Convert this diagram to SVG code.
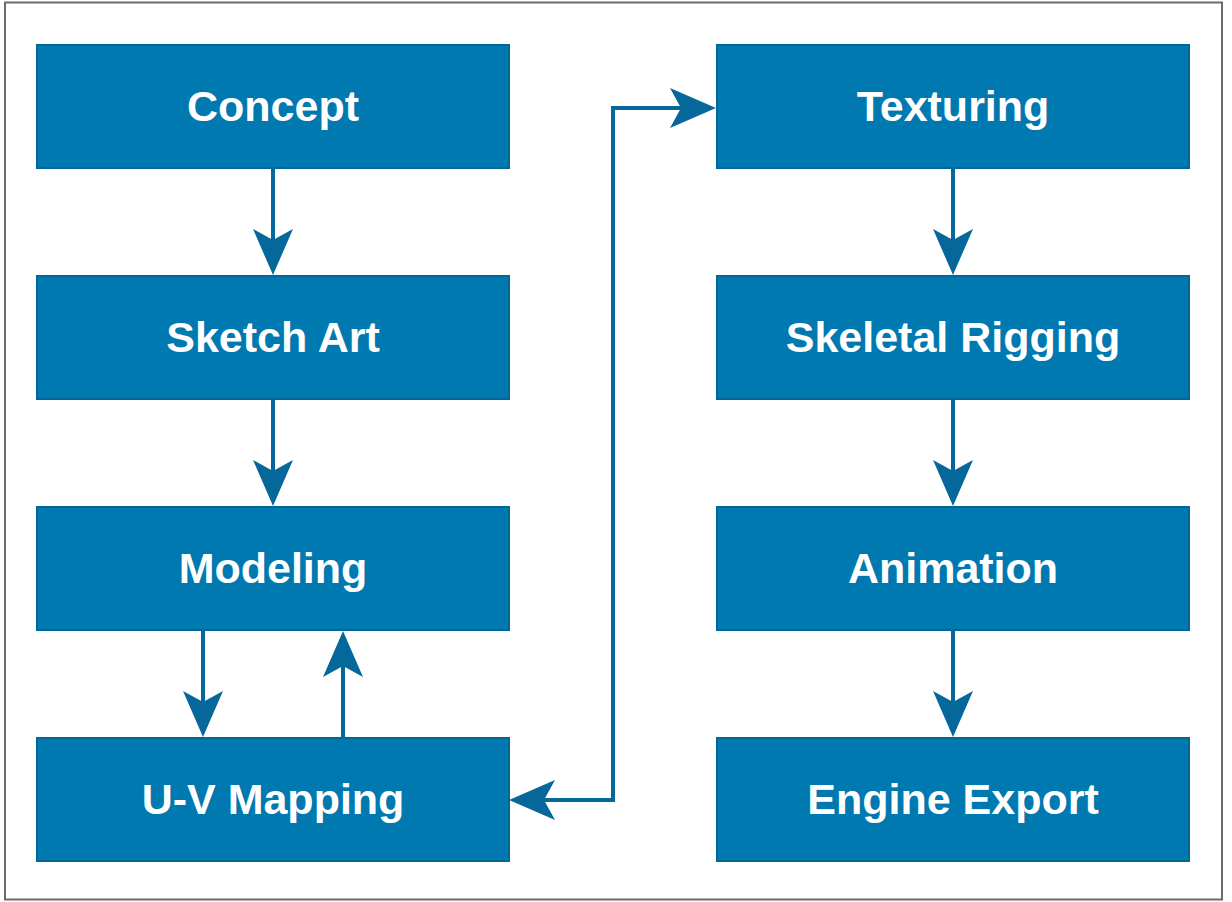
<svg xmlns="http://www.w3.org/2000/svg" width="1232" height="902" viewBox="0 0 1232 902">
<defs>
<style>
.box{fill:#0079b1;stroke:#006798;stroke-width:2}
.lbl{fill:#ffffff;font-family:"Liberation Sans",Arial,sans-serif;font-weight:bold;font-size:43px;text-anchor:middle}
.ln{fill:none;stroke:#05679a;stroke-width:4}
</style>
<marker id="ah" viewBox="0 0 46 40" refX="30" refY="20" markerWidth="46" markerHeight="40" markerUnits="userSpaceOnUse" orient="auto">
<path d="M0,0 L46,20 L0,40 L11,20 Z" fill="#05679a"/>
</marker>
</defs>
<rect x="0" y="0" width="1232" height="902" fill="#ffffff"/>
<rect x="5" y="2.5" width="1217" height="897" fill="none" stroke="#6b6b6b" stroke-width="2"/>
<g id="concept"><rect class="box" x="37" y="45" width="472" height="123"/><text class="lbl" x="273" y="121">Concept</text></g>
<g id="sketch-art"><rect class="box" x="37" y="276" width="472" height="123"/><text class="lbl" x="273" y="352">Sketch Art</text></g>
<g id="modeling"><rect class="box" x="37" y="507" width="472" height="123"/><text class="lbl" x="273" y="583">Modeling</text></g>
<g id="uv-mapping"><rect class="box" x="37" y="738" width="472" height="123"/><text class="lbl" x="273" y="814">U-V Mapping</text></g>
<g id="texturing"><rect class="box" x="717" y="45" width="472" height="123"/><text class="lbl" x="953" y="121">Texturing</text></g>
<g id="skeletal-rigging"><rect class="box" x="717" y="276" width="472" height="123"/><text class="lbl" x="953" y="352">Skeletal Rigging</text></g>
<g id="animation"><rect class="box" x="717" y="507" width="472" height="123"/><text class="lbl" x="953" y="583">Animation</text></g>
<g id="engine-export"><rect class="box" x="717" y="738" width="472" height="123"/><text class="lbl" x="953" y="814">Engine Export</text></g>
<g id="connectors">
<line class="ln" x1="273" y1="168" x2="273" y2="259" marker-end="url(#ah)"/>
<line class="ln" x1="273" y1="399" x2="273" y2="490" marker-end="url(#ah)"/>
<line class="ln" x1="203" y1="630" x2="203" y2="721" marker-end="url(#ah)"/>
<line class="ln" x1="343" y1="737" x2="343" y2="647" marker-end="url(#ah)"/>
<polyline class="ln" points="525,800 613,800 613,108 700,108" marker-end="url(#ah)"/>
<line class="ln" x1="560" y1="800" x2="525" y2="800" marker-end="url(#ah)"/>
<line class="ln" x1="953" y1="168" x2="953" y2="259" marker-end="url(#ah)"/>
<line class="ln" x1="953" y1="399" x2="953" y2="490" marker-end="url(#ah)"/>
<line class="ln" x1="953" y1="630" x2="953" y2="721" marker-end="url(#ah)"/>
</g>
</svg>
